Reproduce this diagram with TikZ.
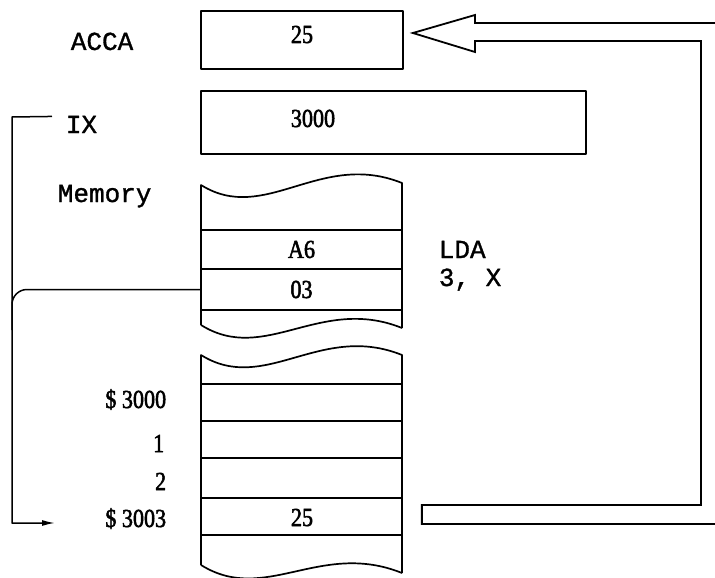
\documentclass[tikz,border=0pt]{standalone}
\usepackage{fontspec}
\setmainfont{Liberation Serif}
\newfontfamily\twfont[FakeBold=1.2]{Liberation Mono}
\newfontfamily\numfont[FakeStretch=0.85,FakeBold=2]{Liberation Serif}
\usetikzlibrary{calc,arrows.meta}
\newcommand\wavepart[2]{.. controls (265,{#1+40}) and (320,{#2-33}) .. (402,#2)}
\begin{document}
\begin{tikzpicture}[x=1pt,y=-1pt, line width=1.7pt, line join=round,
  tw/.style={font=\twfont\fontsize{26}{28}\selectfont, inner sep=0pt},
  num/.style={font=\numfont\fontsize{26}{28}\selectfont, inner sep=0pt},
  reg/.style={draw, rectangle, inner sep=0pt},
  cell/.style={draw, rectangle, inner sep=0pt, minimum width=201pt, font=\numfont\fontsize{26}{28}\selectfont},
  conn/.style={line width=1.5pt},
  bigarrow/.style={line width=1.8pt, line join=miter},
  ]
\useasboundingbox (0,0) rectangle (715,578);

% registers
\node[reg, minimum width=202pt, minimum height=58pt] (acca) at (302,40) {};
\node[num, anchor=base] (accaval) at (302,43) {25};
\node[reg, minimum width=385pt, minimum height=63pt] (ix) at (393.5,122.5) {};
\node[num, anchor=base] (ixval) at (313,127) {3000};

% labels
\node[tw, anchor=base west] (accalbl) at (70,50) {ACCA};
\node[tw, anchor=base west] (ixlbl) at (65,133) {IX};
\node[tw, anchor=base west] (memlbl) at (57,202) {Memory};
\node[tw, anchor=base west] (lda) at (438,258) {LDA};
\node[tw, anchor=base west] (ldaop) at (438,286) {3, X};

% upper memory block
\draw (201,325) -- (201,185) \wavepart{185}{183} -- (402,328);
\draw (201,325) \wavepart{325}{328};
\draw (201,230) -- (402,230);
\node[cell, minimum height=39pt] (cA6) at (301.5,249.5) {A6};
\node[cell, minimum height=41pt] (c03) at (301.5,289.5) {03};

% lower memory block
\draw (201,565) -- (201,355) \wavepart{355}{355} -- (402,573);
\draw (201,565) \wavepart{565}{573};
\node[cell, minimum height=37pt] (c3000) at (301.5,402.5) {};
\node[cell, minimum height=37pt] (c1) at (301.5,439.5) {};
\node[cell, minimum height=40pt] (c2) at (301.5,478) {};
\node[cell, minimum height=37pt] (c3003) at (301.5,516.5) {};
\node[num, anchor=base] (val3003) at (302,526) {25};

% address labels
\node[num, anchor=base east] (a3000) at (167,408) {\$ 3000};
\node[num, anchor=base east] (a1) at (165,452) {1};
\node[num, anchor=base east] (a2) at (167,490) {2};
\node[num, anchor=base east] (a3003) at (167,527) {\$ 3003};

% index register pointer
\coordinate (ixtail) at ($(ixlbl.west)+(-13,-8)$);
\coordinate (ptr) at (55,523);
\draw[conn, -{Latex[length=13pt,width=6pt]}] (ixtail) -- (12,117) -- (12,523) -- (ptr);
\draw[conn, rounded corners=15pt] (c03.west) -- (12,289.5) -- (12,330);

% big outlined data arrow
\coordinate (tip) at ($(acca.east)+(9,-7)$);
\coordinate (uleft) at ($(c3003.east)+(19,0)$);
\draw[bigarrow] (715,524) -- (uleft |- 0,524) -- (uleft |- 0,505) -- (701,505) -- (701,41)
  -- (475,41) -- (475,52) -- (tip) -- (475,15) -- (475,23) -- (715,23);
\end{tikzpicture}
\end{document}
